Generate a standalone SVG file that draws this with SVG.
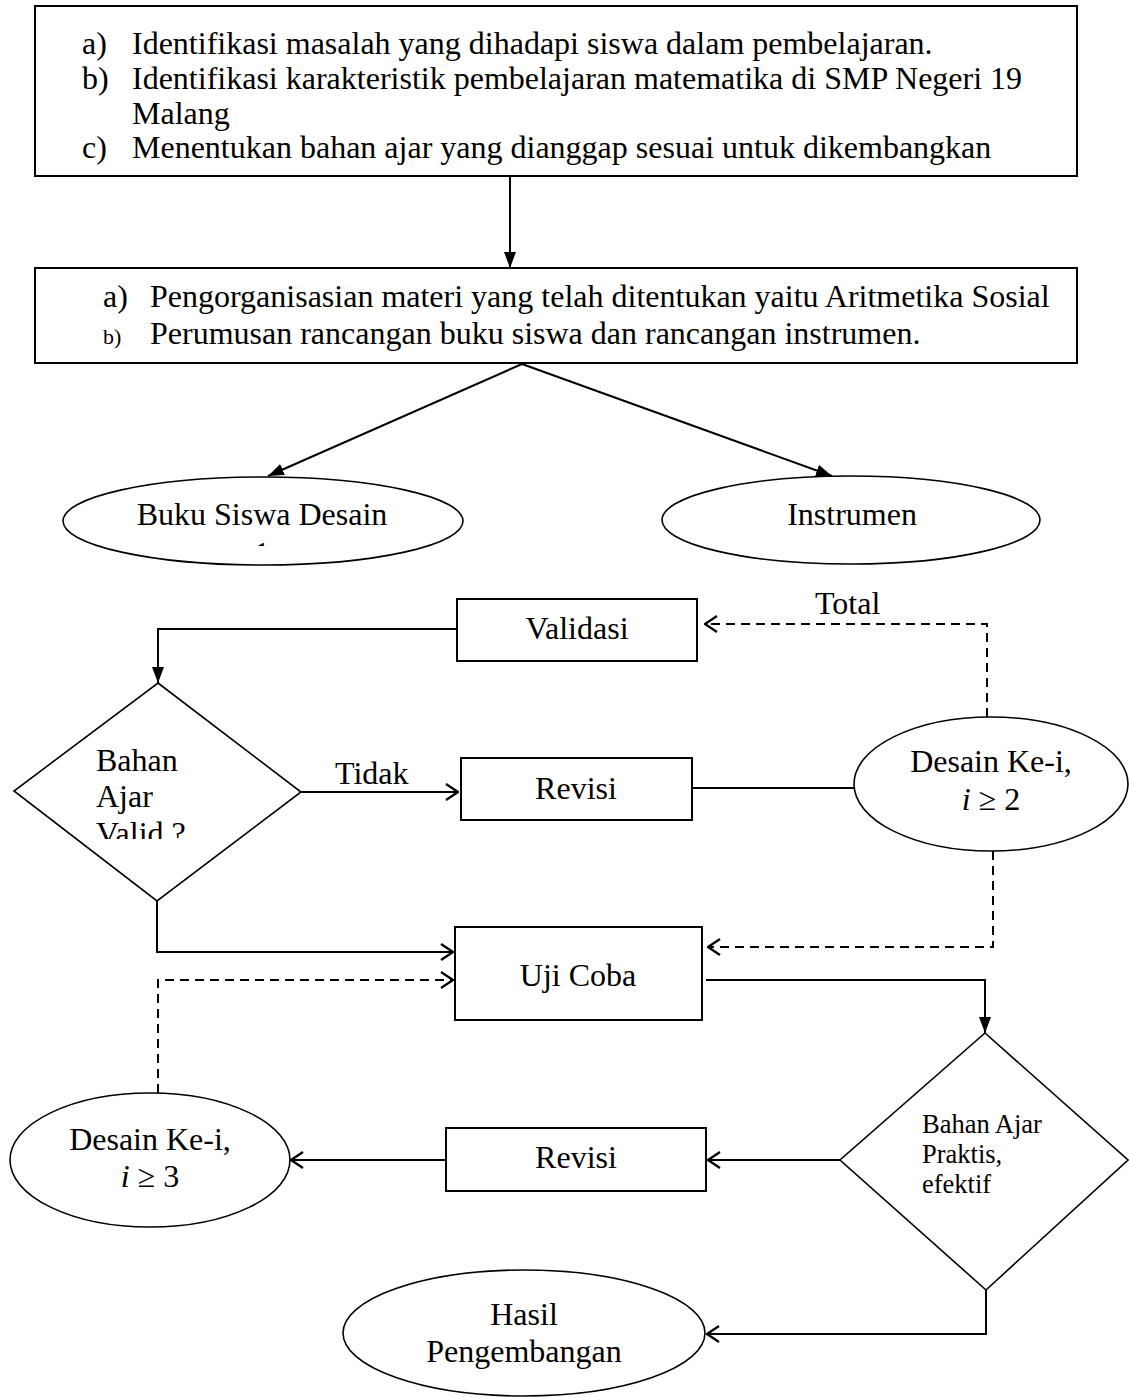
<svg xmlns="http://www.w3.org/2000/svg" width="1129" height="1397" viewBox="0 0 1129 1397">
<style>
text{font-family:"Liberation Serif","Times New Roman",serif;font-size:32px;fill:#000}
.box{fill:#fff;stroke:#000;stroke-width:2}
.shape{fill:#fff;stroke:#000;stroke-width:1.6}
.ln{fill:none;stroke:#000;stroke-width:2}
.dash{fill:none;stroke:#000;stroke-width:2;stroke-dasharray:9 6}
.c{text-anchor:middle}
.sm{font-size:26.5px}
.xs{font-size:22px}
</style>
<defs>
<marker id="fill" viewBox="0 0 16 12" refX="16" refY="6" markerWidth="16" markerHeight="12" markerUnits="userSpaceOnUse" orient="auto">
<path d="M0,0 L16,6 L0,12 Z" fill="#000"/>
</marker>
<marker id="open" viewBox="0 0 14 18" refX="13" refY="9" markerWidth="14" markerHeight="18" markerUnits="userSpaceOnUse" orient="auto">
<path d="M1,1 L13,9 L1,17" fill="none" stroke="#000" stroke-width="2.2"/>
</marker>
<clipPath id="clipBuku"><rect x="0" y="0" width="1129" height="546"/></clipPath>
<clipPath id="clipValid"><rect x="0" y="0" width="1129" height="839"/></clipPath>
</defs>

<g id="connectors">
<line class="ln" x1="510" y1="176" x2="510" y2="268" marker-end="url(#fill)"/>
<line class="ln" x1="522" y1="364" x2="268" y2="476" marker-end="url(#fill)"/>
<line class="ln" x1="522" y1="364" x2="832" y2="476" marker-end="url(#fill)"/>
<polyline class="ln" points="457,629 158,629 158,683" marker-end="url(#fill)"/>
<polyline class="dash" points="987,717 987,624 705,624" marker-end="url(#open)"/>
<line class="ln" x1="301" y1="792" x2="458" y2="792" marker-end="url(#open)"/>
<line class="ln" x1="692" y1="788" x2="855" y2="788"/>
<polyline class="dash" points="993,851 993,947 708,947" marker-end="url(#open)"/>
<polyline class="ln" points="157,901 157,952 453,952" marker-end="url(#open)"/>
<polyline class="dash" points="158,1093 158,980 453,980" marker-end="url(#open)"/>
<polyline class="ln" points="706,980 985,980 985,1033" marker-end="url(#fill)"/>
<line class="ln" x1="840" y1="1160" x2="708" y2="1160" marker-end="url(#open)"/>
<line class="ln" x1="446" y1="1160" x2="291" y2="1160" marker-end="url(#open)"/>
<polyline class="ln" points="986,1290 986,1334 707,1334" marker-end="url(#open)"/>
<text x="335" y="784">Tidak</text>
<text x="815" y="614">Total</text>
</g>

<g id="node-identifikasi">
<rect class="box" x="35" y="6" width="1042" height="170"/>
<text x="82" y="54">a)</text><text x="132" y="54">Identifikasi masalah yang dihadapi siswa dalam pembelajaran.</text>
<text x="82" y="89">b)</text><text x="132" y="89">Identifikasi karakteristik pembelajaran matematika di SMP Negeri 19</text>
<text x="132" y="124">Malang</text>
<text x="82" y="158">c)</text><text x="132" y="158">Menentukan bahan ajar yang dianggap sesuai untuk dikembangkan</text>
</g>

<g id="node-pengorganisasian">
<rect class="box" x="35" y="268" width="1042" height="95"/>
<text x="103" y="307">a)</text><text x="150" y="307">Pengorganisasian materi yang telah ditentukan yaitu Aritmetika Sosial</text>
<text x="103" y="344" class="xs">b)</text><text x="150" y="344">Perumusan rancangan buku siswa dan rancangan instrumen.</text>
</g>

<g id="node-buku">
<ellipse class="shape" cx="263" cy="521" rx="200" ry="44"/>
<text x="262" y="525" class="c">Buku Siswa Desain</text>
<text x="262" y="564" class="c" clip-path="url(#clipBuku)">1</text>
</g>

<g id="node-instrumen">
<ellipse class="shape" cx="851" cy="520" rx="189" ry="44"/>
<text x="852" y="525" class="c">Instrumen</text>
</g>

<g id="node-validasi">
<rect class="box" x="457" y="599" width="240" height="62"/>
<text x="577" y="639" class="c">Validasi</text>
</g>

<g id="node-valid-decision">
<polygon class="shape" points="158,683 301,792 157,901 14,791"/>
<text x="96" y="771">Bahan</text>
<text x="96" y="807">Ajar</text>
<text x="96" y="844" clip-path="url(#clipValid)">Valid ?</text>
</g>

<g id="node-revisi1">
<rect class="box" x="461" y="758" width="231" height="62"/>
<text x="576" y="799" class="c">Revisi</text>
</g>

<g id="node-desain2">
<ellipse class="shape" cx="991" cy="784" rx="137" ry="67"/>
<text x="991" y="772" class="c">Desain Ke-i,</text>
<text x="991" y="810" class="c"><tspan font-style="italic">i</tspan> ≥ 2</text>
</g>

<g id="node-ujicoba">
<rect class="box" x="455" y="927" width="247" height="93"/>
<text x="578" y="986" class="c">Uji Coba</text>
</g>

<g id="node-praktis-decision">
<polygon class="shape" points="985,1033 1128,1160 986,1290 840,1160"/>
<text x="922" y="1133" class="sm">Bahan Ajar</text>
<text x="922" y="1163" class="sm">Praktis,</text>
<text x="922" y="1193" class="sm">efektif</text>
</g>

<g id="node-revisi2">
<rect class="box" x="446" y="1128" width="260" height="63"/>
<text x="576" y="1168" class="c">Revisi</text>
</g>

<g id="node-desain3">
<ellipse class="shape" cx="150" cy="1160" rx="140" ry="67"/>
<text x="150" y="1150" class="c">Desain Ke-i,</text>
<text x="150" y="1187" class="c"><tspan font-style="italic">i</tspan> ≥ 3</text>
</g>

<g id="node-hasil">
<ellipse class="shape" cx="524" cy="1333" rx="181" ry="63"/>
<text x="524" y="1325" class="c">Hasil</text>
<text x="524" y="1362" class="c">Pengembangan</text>
</g>
</svg>
